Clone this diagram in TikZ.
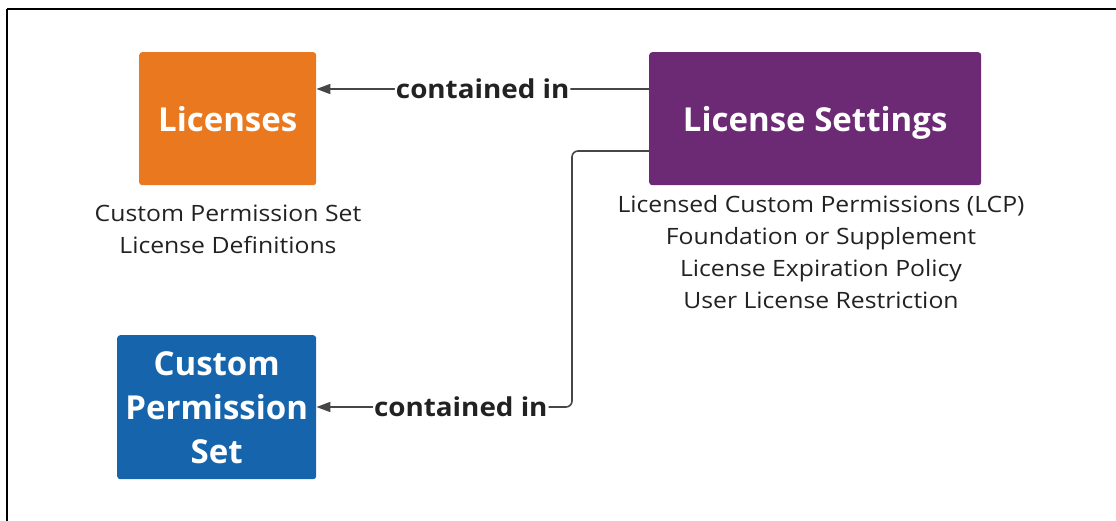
\documentclass[tikz,border=0pt]{standalone}
\usepackage{fontspec}
\setmainfont{Open Sans}
\newfontfamily\notefont[FakeStretch=1.1]{Open Sans}
\newfontfamily\labelfont[FakeStretch=1.07]{Open Sans}
\usetikzlibrary{arrows.meta}
\definecolor{lcorange}{RGB}{233,120,30}
\definecolor{lcpurple}{RGB}{108,42,116}
\definecolor{lcblue}{RGB}{22,101,172}
\definecolor{linkgray}{RGB}{70,70,70}
\definecolor{textdark}{RGB}{34,34,34}
\tikzset{
  box/.style={rounded corners=3pt, inner sep=0pt, anchor=north west, text=white,
    text depth=0pt, font=\bfseries\fontsize{33}{44}\selectfont, align=center},
  note/.style={text=textdark, font=\notefont\fontsize{22.5}{32.2}\selectfont, align=center, anchor=north},
  link/.style={draw=linkgray, line width=1.6pt, rounded corners=6pt,
    -{Triangle[length=14pt,width=10pt]}},
  linklabel/.style={fill=white, text=textdark, inner sep=1pt,
    font=\labelfont\bfseries\fontsize{26}{30}\selectfont},
}
\begin{document}
\begin{tikzpicture}[x=1pt,y=-1pt]
\useasboundingbox (0,0) rectangle (1116,521);
% frame edges
\draw[line width=2.6pt] (1116,9) -- (7,9);
\draw[line width=1.6pt] (7,9) -- (7,521);

% boxes
\node[box, fill=lcorange, minimum width=177pt, minimum height=133pt] (lic) at (139,52) {Licenses};
\node[box, fill=lcpurple, minimum width=332pt, minimum height=133pt] (set) at (649,52) {License Settings};
\node[box, fill=lcblue, minimum width=199pt, minimum height=144pt] (cps) at (117,335) {Custom\\Permission\\Set};

% descriptions
\node[note] (licnote) at (228,201) {Custom Permission Set\\License Definitions};
\node[note] (setnote) at (821,191.5) {Licensed Custom Permissions (LCP)\\Foundation or Supplement\\License Expiration Policy\\User License Restriction};

% connectors
\coordinate (s1) at (set.west |- 0,89);
\coordinate (e1) at (lic.east |- 0,89);
\draw[link] (s1) -- node[linklabel, pos=0.5] (l1) {contained in} (e1);

\coordinate (s2) at (set.west |- 0,151);
\coordinate (e2) at (cps.east |- 0,407);
\draw[link] (s2) -- (572,151) -- (572,407) -- node[linklabel, pos=0.435] (l2) {contained in} (e2);
\end{tikzpicture}
\end{document}
